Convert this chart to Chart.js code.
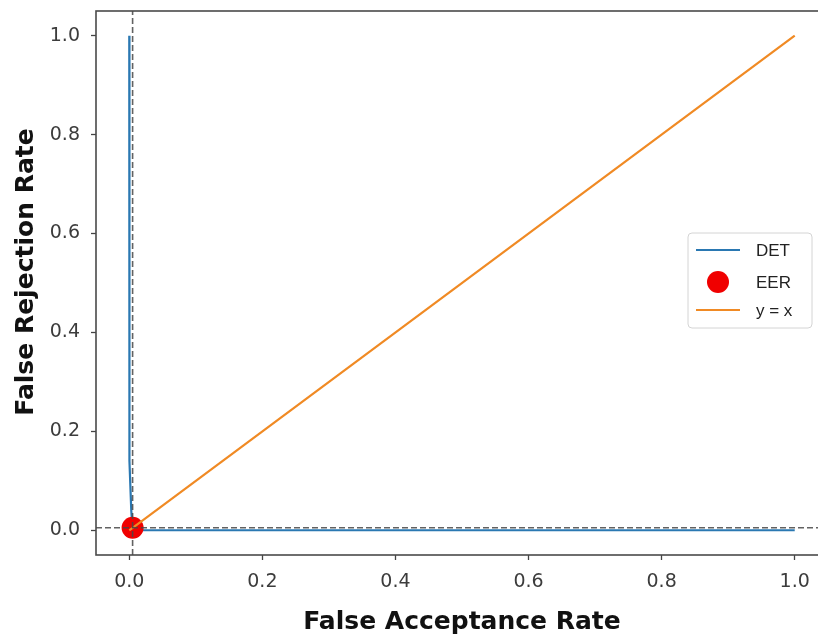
<!DOCTYPE html>
<html>
<head>
<meta charset="utf-8">
<script src="https://cdn.jsdelivr.net/npm/chart.js@4.4.1/dist/chart.umd.min.js"></script>
<style>
html,body{margin:0;padding:0;background:#fff;overflow:hidden;}
#wrap{width:840px;height:635px;}
</style>
</head>
<body>
<div id="wrap"><canvas id="c" width="840" height="635"></canvas></div>
<script>
// ---- data ----
const detFar = [0, 0, 0, 0, 0.001, 0.003, 0.005, 0.01, 0.1, 0.3, 0.5, 0.7, 0.9, 1.0];
const detFrr = [1.0, 0.8, 0.5, 0.2, 0.14, 0.04, 0.0, 0.0, 0.0, 0.0, 0.0, 0.0, 0.0, 0.0];
const eerPoint = [0.005, 0.005];          // [FAR, FRR]
const diagX = [0, 1];
const diagY = [0, 1];
const axisLimits = [-0.05, 1.05];
const tickValues = [0, 0.2, 0.4, 0.6, 0.8, 1.0];
const tickLabels = ['0.0', '0.2', '0.4', '0.6', '0.8', '1.0'];
const seriesLabels = ['DET', 'EER', 'y = x'];
const xTitle = 'False Acceptance Rate';
const yTitle = 'False Rejection Rate';

const blue = '#2a78b2', orange = '#f08a24', red = '#f00000', dashCol = 'rgba(70,70,70,0.85)';

const toPts = (xs, ys) => xs.map((x, i) => ({x: x, y: ys[i]}));

const legendPlugin = {
  id: 'insideLegend',
  afterDraw(chart) {
    const ctx = chart.ctx;
    const x0 = 688, y0 = 233, w = 124, h = 95;
    ctx.save();
    ctx.beginPath();
    ctx.roundRect(x0, y0, w, h, 4);
    ctx.fillStyle = 'rgba(255,255,255,0.85)';
    ctx.fill();
    ctx.strokeStyle = '#d4d4d4';
    ctx.lineWidth = 1;
    ctx.stroke();
    const rows = [250, 282, 310];
    const ds = chart.data.datasets.filter(d => seriesLabels.includes(d.label));
    ds.forEach((d, i) => {
      const y = rows[i];
      if (d.showLine === false) {
        ctx.beginPath();
        ctx.arc(718, y, 11, 0, Math.PI * 2);
        ctx.fillStyle = d.pointBackgroundColor;
        ctx.fill();
      } else {
        ctx.beginPath();
        ctx.moveTo(696, y);
        ctx.lineTo(740, y);
        ctx.strokeStyle = d.borderColor;
        ctx.lineWidth = 2.2;
        ctx.stroke();
      }
      ctx.fillStyle = '#222';
      ctx.font = '17px "Liberation Sans", Arial, sans-serif';
      ctx.textBaseline = 'middle';
      ctx.textAlign = 'left';
      ctx.fillText(d.label, 756, y + 1);
    });
    ctx.restore();
  }
};

const framePlugin = {
  id: 'frame',
  afterDatasetsDraw(chart) {
    const a = chart.chartArea, ctx = chart.ctx;
    ctx.save();
    ctx.strokeStyle = '#4a4a4a';
    ctx.lineWidth = 1.6;
    ctx.strokeRect(a.left, a.top, a.right - a.left, a.bottom - a.top);
    ctx.restore();
  }
};

const yTitlePlugin = {
  id: 'yTitle',
  afterDraw(chart) {
    const ctx = chart.ctx;
    ctx.save();
    ctx.translate(32.5, 272);
    ctx.rotate(-Math.PI / 2);
    ctx.font = 'bold 25px "DejaVu Sans"';
    ctx.fillStyle = '#111';
    ctx.textAlign = 'center';
    ctx.textBaseline = 'alphabetic';
    ctx.fillText(yTitle, 0, 0);
    ctx.restore();
  }
};

const setTicks = (scale) => { scale.ticks = tickValues.map(v => ({value: v})); };

new Chart(document.getElementById('c'), {
  type: 'scatter',
  data: {
    datasets: [
      {label: seriesLabels[0], data: toPts(detFar, detFrr), showLine: true, borderColor: blue, borderWidth: 2.2, pointRadius: 0, order: 4},
      {label: seriesLabels[1], data: [{x: eerPoint[0], y: eerPoint[1]}], showLine: false, pointRadius: 11, pointBackgroundColor: red, pointBorderColor: red, pointBorderWidth: 0, order: 3},
      {label: seriesLabels[2], data: toPts(diagX, diagY), showLine: true, borderColor: orange, borderWidth: 2.2, pointRadius: 0, order: 2},
      {label: 'vline', data: [{x: eerPoint[0], y: axisLimits[0]}, {x: eerPoint[0], y: axisLimits[1]}], showLine: true, borderColor: dashCol, borderWidth: 1.6, borderDash: [6, 3], pointRadius: 0, order: 1},
      {label: 'hline', data: [{x: axisLimits[0], y: eerPoint[1]}, {x: axisLimits[1], y: eerPoint[1]}], showLine: true, borderColor: dashCol, borderWidth: 1.6, borderDash: [6, 3], pointRadius: 0, order: 0}
    ]
  },
  options: {
    responsive: false,
    animation: false,
    layout: {padding: {left: 0, top: 10, right: 12, bottom: 0}},
    plugins: {legend: {display: false}, tooltip: {enabled: false}},
    scales: {
      x: {
        type: 'linear', min: axisLimits[0], max: axisLimits[1],
        afterBuildTicks: setTicks,
        afterFit: (s) => { s.height = 80; s.paddingLeft = 0; s.paddingRight = 0; },
        grid: {drawOnChartArea: false, drawTicks: true, tickLength: 5, color: '#444', tickWidth: 1.3},
        border: {display: false},
        ticks: {padding: 11, color: '#3c3c3c', font: {family: '"DejaVu Sans"', size: 19}, callback: (v) => tickLabels[tickValues.indexOf(v)]},
        title: {display: true, text: xTitle, color: '#111', font: {family: '"DejaVu Sans"', size: 25, weight: 'bold', lineHeight: 1.0}, padding: {top: 0, bottom: 0}}
      },
      y: {
        type: 'linear', min: axisLimits[0], max: axisLimits[1],
        afterBuildTicks: setTicks,
        afterFit: (s) => { s.width = 96; s.paddingTop = 0; s.paddingBottom = 0; },
        grid: {drawOnChartArea: false, drawTicks: true, tickLength: 5, color: '#444', tickWidth: 1.3},
        border: {display: false},
        ticks: {padding: 11, color: '#3c3c3c', font: {family: '"DejaVu Sans"', size: 19}, callback: (v) => tickLabels[tickValues.indexOf(v)]},
        title: {display: false}
      }
    }
  },
  plugins: [framePlugin, legendPlugin, yTitlePlugin]
});
</script>
</body>
</html>
